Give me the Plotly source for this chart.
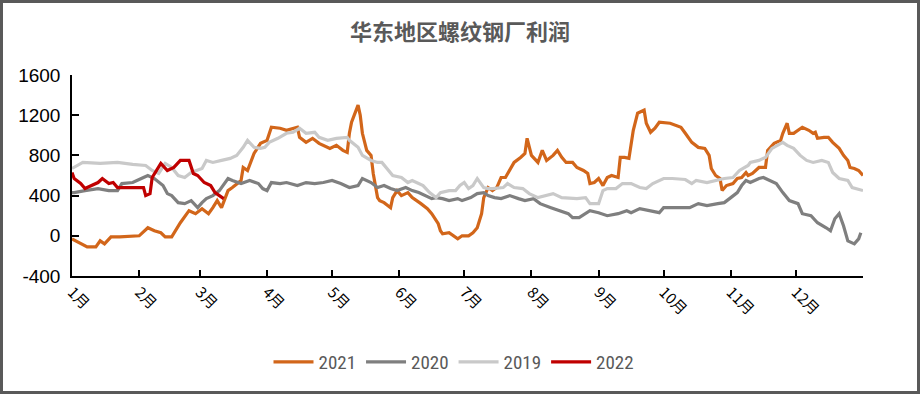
import plotly.graph_objects as go

# ---- data (x = day of year, y = profit, 元/吨) ----
month_ticks = [0, 31, 59, 90, 120, 151, 181, 212, 243, 273, 304, 334]
month_labels = ["1月", "2月", "3月", "4月", "5月", "6月", "7月", "8月", "9月", "10月", "11月", "12月"]
y_ticks = [-400, 0, 400, 800, 1200, 1600]
y_labels = ["-400", "0", "400", "800", "1200", "1600"]

d2021 = [0, 4, 7, 11, 13, 15, 18, 22, 31, 35, 38, 41, 43, 46, 50, 54, 57, 60, 63, 65, 67, 69, 72, 74, 78, 79, 81, 84, 87, 90,
         92, 96, 99, 104, 105, 108, 111, 114, 118, 119, 122, 125, 127, 128, 129, 131, 132, 133, 134, 136, 138, 139, 141, 142,
         144, 147, 148, 150, 152, 155, 157, 161, 164, 166, 168, 169, 170, 171, 174, 176, 178, 180, 183, 185, 187, 189, 190,
         192, 194, 196, 198, 200, 202, 204, 207, 209, 210, 212, 215, 217, 219, 222, 224, 226, 228, 231, 233, 236, 238, 239,
         241, 243, 245, 247, 249, 252, 253, 255, 257, 259, 261, 264, 265, 267, 269, 271, 276, 281, 283, 286, 289, 292, 294,
         295, 297, 299, 300, 302, 305, 307, 309, 311, 312, 314, 317, 320, 321, 324, 327, 328, 330, 331, 333, 335, 337, 340,
         342, 343, 344, 347, 349, 351, 354, 356, 358, 359, 361, 363, 365]
v2021 = [-30, -80, -110, -110, -50, -80, -10, -10, 0, 80, 50, 30, -10, -10, 130, 250, 220, 270, 220, 280, 350, 280, 450, 480,
         550, 680, 650, 820, 920, 950, 1080, 1070, 1050, 1080, 980, 930, 970, 920, 880, 870, 900, 850, 830, 1020, 1130, 1250,
         1300, 1200, 1020, 850, 800, 620, 380, 350, 330, 280, 380, 450, 400, 430, 380, 320, 270, 220, 150, 120, 50, 20, 30,
         0, -30, 0, 0, 30, 80, 220, 380, 480, 450, 480, 580, 580, 650, 730, 780, 820, 970, 800, 730, 850, 750, 800, 850, 780,
         730, 730, 680, 650, 620, 520, 530, 570, 500, 580, 600, 580, 780, 780, 770, 1050, 1220, 1250, 1120, 1030, 1070, 1130,
         1120, 1080, 1020, 930, 880, 870, 800, 670, 600, 570, 450, 500, 520, 570, 580, 630, 600, 620, 680, 680, 850, 920,
         950, 1020, 1120, 1020, 1020, 1050, 1080, 1050, 1020, 1030, 970, 980, 980, 930, 870, 800, 750, 680, 670, 650, 600]

d2020 = [0, 1, 6, 12, 17, 21, 23, 28, 32, 35, 38, 42, 44, 46, 49, 52, 55, 58, 60, 62, 65, 68, 72, 74, 78, 82, 86, 88, 90, 92,
         96, 99, 104, 108, 112, 116, 120, 124, 128, 132, 134, 138, 141, 144, 147, 150, 154, 157, 160, 163, 166, 168, 171,
         174, 178, 180, 184, 187, 190, 192, 195, 198, 202, 206, 209, 213, 216, 221, 225, 229, 231, 234, 239, 243, 247, 252,
         256, 258, 262, 267, 271, 273, 281, 285, 289, 293, 298, 301, 304, 307, 309, 311, 313, 317, 319, 322, 325, 328, 331,
         335, 337, 341, 344, 348, 350, 352, 354, 356, 358, 361, 363, 364]
v2020 = [430, 430, 450, 470, 450, 450, 520, 530, 570, 600, 570, 500, 420, 400, 330, 320, 350, 280, 330, 370, 400, 450, 570,
         550, 520, 550, 520, 470, 450, 530, 520, 530, 500, 530, 520, 530, 550, 520, 480, 500, 570, 530, 480, 500, 470, 450,
         480, 450, 430, 400, 370, 380, 370, 350, 370, 350, 380, 420, 430, 400, 380, 370, 400, 370, 350, 370, 320, 280, 250,
         220, 180, 180, 250, 230, 200, 220, 250, 230, 270, 250, 230, 280, 280, 280, 320, 300, 320, 330, 380, 430, 500, 550,
         530, 570, 580, 550, 520, 430, 350, 320, 220, 200, 130, 80, 50, 170, 220, 100, -50, -80, -30, 30]

d2019 = [0, 5, 13, 21, 28, 34, 37, 40, 43, 46, 49, 52, 55, 60, 62, 65, 69, 73, 76, 79, 81, 84, 87, 89, 91, 95, 99, 102, 105,
         108, 112, 114, 118, 122, 127, 128, 132, 134, 138, 141, 143, 145, 148, 152, 155, 157, 162, 165, 168, 170, 174, 177,
         179, 181, 183, 185, 187, 190, 192, 194, 199, 201, 204, 208, 211, 215, 218, 222, 226, 230, 233, 237, 239, 243, 245,
         247, 251, 254, 258, 262, 265, 268, 273, 277, 283, 286, 288, 293, 298, 301, 305, 308, 312, 313, 317, 320, 323, 328,
         330, 333, 336, 339, 342, 346, 349, 351, 354, 358, 360, 365]
v2019 = [670, 730, 720, 730, 710, 700, 650, 620, 720, 680, 600, 580, 630, 670, 750, 730, 750, 770, 800, 880, 950, 880, 870,
         880, 930, 970, 1020, 1030, 1070, 1020, 1030, 980, 950, 970, 980, 950, 880, 800, 750, 730, 730, 680, 600, 580, 530,
         550, 500, 430, 380, 430, 450, 450, 500, 530, 470, 500, 570, 480, 470, 470, 480, 520, 480, 470, 420, 380, 400, 420,
         380, 370, 370, 380, 320, 320, 450, 470, 470, 520, 520, 480, 470, 520, 570, 570, 560, 520, 550, 530, 560, 570, 580,
         650, 700, 730, 750, 780, 870, 930, 900, 870, 800, 750, 730, 750, 730, 630, 570, 550, 480, 450]

d2022 = [0, 1, 4, 6, 9, 12, 14, 17, 19, 21, 30, 33, 34, 36, 37, 41, 44, 47, 50, 54, 56, 58, 61, 64, 66, 70]
v2022 = [630, 570, 520, 470, 500, 530, 570, 520, 530, 480, 480, 480, 400, 420, 580, 720, 650, 680, 750, 750, 620, 600, 530,
         500, 430, 370]

series = [
    ("2021", d2021, v2021, "#D2661A"),
    ("2020", d2020, v2020, "#7F7F7F"),
    ("2019", d2019, v2019, "#C9C9C9"),
    ("2022", d2022, v2022, "#C00000"),
]

fig = go.Figure()
for name, xs, ys, color in series:
    fig.add_trace(go.Scatter(x=xs, y=ys, name=name, mode="lines",
                             line=dict(color=color, width=3.2)))

W, H = 920, 394
ml, mr, mt, mb = 72, 57, 75, 118
pw, ph = W - ml - mr, H - mt - mb

fig.update_layout(
    width=W, height=H, autosize=False,
    margin=dict(l=ml, r=mr, t=mt, b=mb, autoexpand=False),
    paper_bgcolor="white", plot_bgcolor="white",
    title=dict(text="<b>华东地区螺纹钢厂利润</b>", x=0.5, xref="container", xanchor="center",
               y=1 - 32 / H, yanchor="middle", yref="container",
               font=dict(family="Noto Sans CJK SC", size=22, color="#595959")),
    showlegend=True,
    legend=dict(orientation="h", x=(454 - ml) / pw, xanchor="center",
                y=-(362 - mt - ph) / ph, yanchor="middle",
                font=dict(family="Liberation Sans Narrow, Roboto Condensed, Noto Sans CJK SC", size=19, color="#595959"),
                itemwidth=40, tracegroupgap=0, bgcolor="rgba(0,0,0,0)"),
    xaxis=dict(range=[0, 365], tickmode="array", tickvals=month_ticks, ticktext=month_labels,
               tickangle=45, showgrid=False, zeroline=False, showline=True, linecolor="black", linewidth=1.5,
               ticks="inside", ticklen=6, tickcolor="black", tickwidth=1.5,
               tickfont=dict(family="Noto Sans CJK SC", size=15, color="black")),
    yaxis=dict(range=[-400, 1600], tickmode="array", tickvals=y_ticks, ticktext=y_labels,
               showgrid=False, zeroline=False, showline=True, linecolor="black", linewidth=1.5,
               ticks="inside", ticklen=7, tickcolor="black", tickwidth=1.5, ticklabelstandoff=6,
               tickfont=dict(family="Liberation Sans, Arial", size=19, color="black")),
    shapes=[dict(type="rect", xref="paper", yref="paper",
                 x0=(1.5 - ml) / pw, x1=(W - 1.5 - ml) / pw,
                 y0=-(mb - 1.5) / ph, y1=1 + (mt - 1.5) / ph,
                 line=dict(color="#595959", width=3), fillcolor="rgba(0,0,0,0)", layer="below")],
)

fig.write_html("out.html", config={"displayModeBar": False},
               post_script="document.body.style.margin='0';document.body.style.overflow='hidden';")
